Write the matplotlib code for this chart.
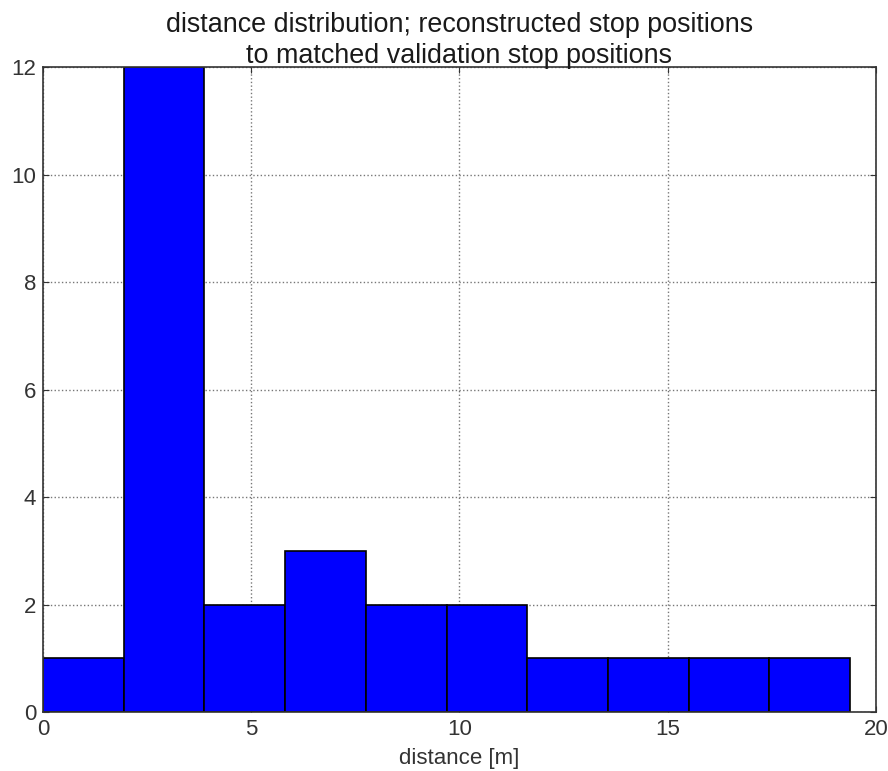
import numpy as np
import matplotlib
matplotlib.use("Agg")
import matplotlib.pyplot as plt

# histogram
counts = [1, 12, 2, 3, 2, 2, 1, 1, 1, 1]
bin_start = 0.0
bin_end = 19.38
n_bins = len(counts)

plt.rcParams['font.family'] = ['Liberation Sans', 'DejaVu Sans']

edges = np.linspace(bin_start, bin_end, n_bins + 1)

fig = plt.figure(figsize=(8.88, 7.71), dpi=100)
ax = fig.add_axes([0.0484, 0.0765, 0.9381, 0.8365])

ax.hist(edges[:-1], bins=edges, weights=counts, color='#0000ff',
        edgecolor='black', linewidth=1.2, zorder=2)

ax.set_xlim(0, 20)
ax.set_ylim(0, 12)
ax.set_xticks([0, 5, 10, 15, 20])
ax.set_yticks([0, 2, 4, 6, 8, 10, 12])
ax.grid(True, linestyle=':', color='#555555', linewidth=1.0, alpha=0.8, zorder=0)
ax.set_axisbelow(True)
ax.tick_params(direction='in', length=4, labelsize=16, colors='#333333',
               top=True, right=True, pad=5)
for s in ax.spines.values():
    s.set_color('#333333')
    s.set_linewidth(1.2)

ax.set_xlabel('distance [m]', fontsize=16, color='#333333', labelpad=6)
ax.set_title('distance distribution; reconstructed stop positions\n'
             'to matched validation stop positions', fontsize=19.4, color='#1a1a1a',
             linespacing=1.25, pad=3)

fig.savefig('out.png', dpi=100)
